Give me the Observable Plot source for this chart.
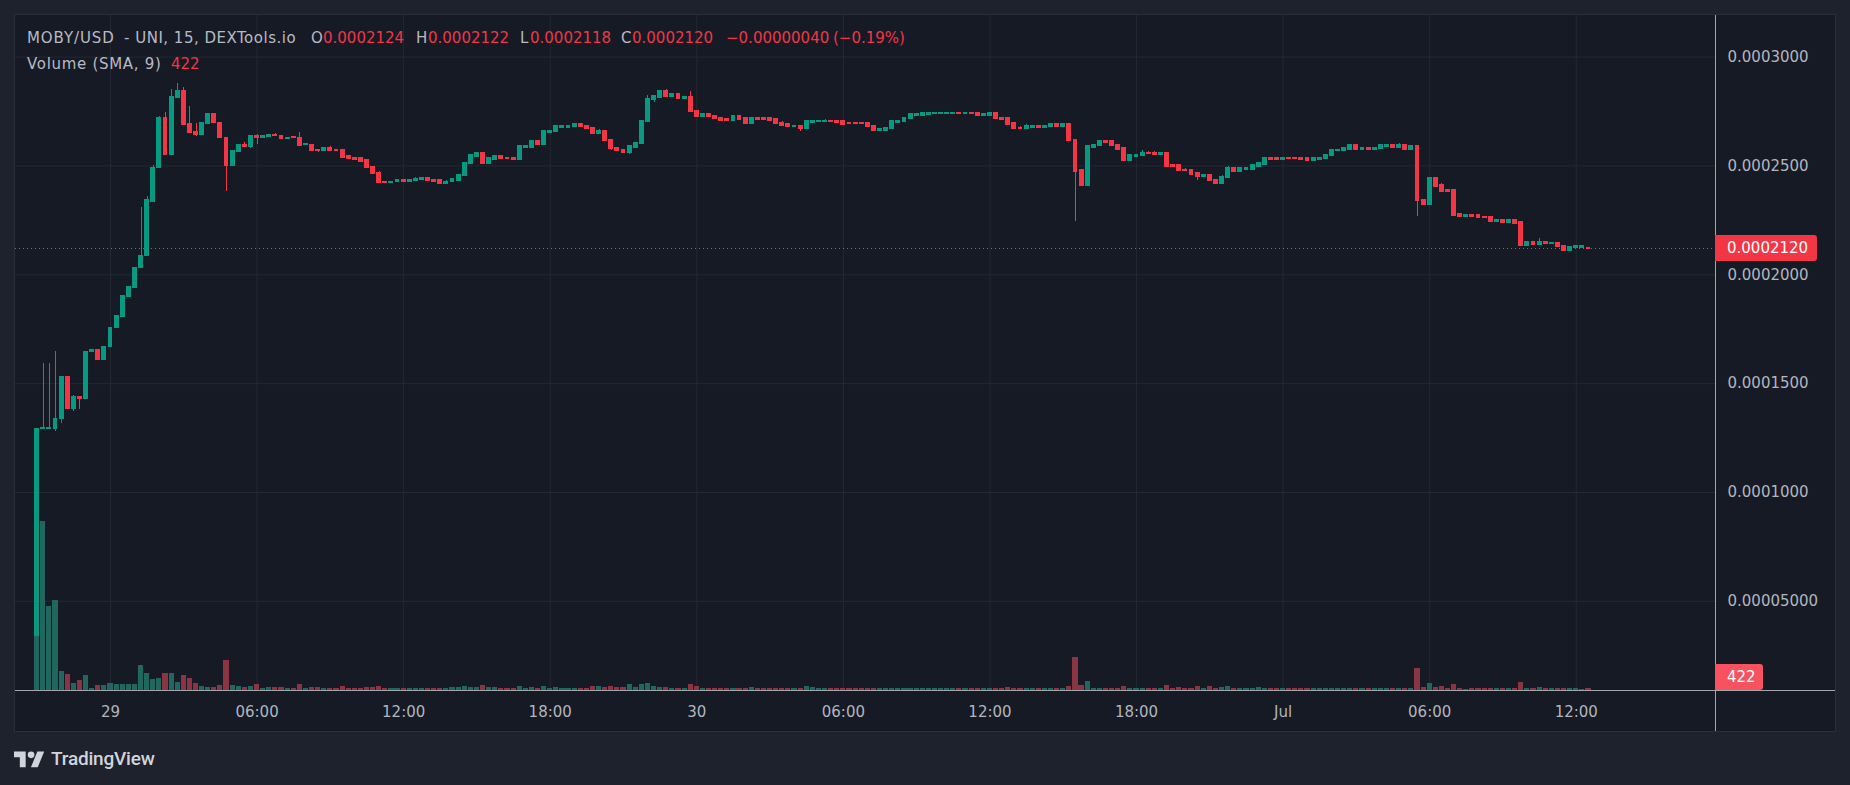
<!DOCTYPE html>
<html>
<head>
<meta charset="utf-8">
<script src="https://cdn.jsdelivr.net/npm/d3@7"></script>
<script src="https://cdn.jsdelivr.net/npm/@observablehq/plot@0.6"></script>
<style>
  html, body { margin: 0; padding: 0; background: #1e222d; }
  #wrap { position: relative; width: 1850px; height: 785px; overflow: hidden; background: #1e222d; font-family: "DejaVu Sans", sans-serif; }
  #frame { position: absolute; left: 14px; top: 14px; width: 1822px; height: 718px; box-sizing: border-box; background: #161a25; border: 1px solid #2a2e39; }
  .layer { position: absolute; left: 0; top: 0; }
  .hline { position: absolute; height: 1px; background: #a3a6af; }
  .vline { position: absolute; width: 1px; background: #a3a6af; }
  .lg { position: absolute; font-size: 15px; line-height: 20px; white-space: pre; color: #b8bbc4; }
  .lg.r { color: #f23645; }
  .tag { position: absolute; color: #ffffff; font-size: 15px; line-height: 26px; height: 26px; box-sizing: border-box; padding-left: 12px; white-space: pre; border-radius: 0 3px 3px 0; }
  #logo { position: absolute; left: 14px; top: 747px; color: #d1d4dc; display: flex; align-items: center; }
  #logo span { font-family: Roboto, sans-serif; font-weight: 500; font-size: 19px; margin-left: 7px; letter-spacing: -0.2px; }
</style>
</head>
<body>
<div id="wrap">
  <div id="frame"></div>
</div>
<script>
// ---------- DATA (prices in units of 0.0000001 USD) ----------
const UNIT = 1e-7;
const START = Date.UTC(2024, 5, 28, 21, 0);   // first 15-min candle, 28 Jun 21:00
const INTERVAL_MIN = 15;

const OPEN = [
  338,1293,1293,1290,1336,1528,1382,1440,1428,1644,
  1652,1607,1667,1754,1808,1897,1938,2030,2085,2335,
  2489,2722,2549,2811,2842,2690,2655,2641,2693,2736,
  2699,2630,2502,2563,2594,2586,2638,2627,2635,2644,
  2638,2623,2632,2630,2595,2598,2575,2571,2583,2575,
  2571,2543,2538,2534,2525,2497,2469,2428,2420,2425,
  2433,2425,2430,2434,2442,2433,2433,2419,2425,2433,
  2456,2511,2543,2557,2511,2529,2543,2538,2538,2529,
  2584,2584,2616,2598,2653,2658,2676,2676,2681,2690,
  2685,2676,2649,2662,2621,2584,2575,2561,2584,2603,
  2704,2805,2814,2842,2819,2828,2809,2814,2754,2727,
  2736,2731,2722,2713,2708,2727,2718,2695,2718,2718,
  2718,2713,2699,2690,2681,2685,2672,2699,2704,2704,
  2708,2708,2704,2695,2695,2695,2695,2685,2662,2662,
  2672,2699,2704,2718,2731,2731,2736,2741,2741,2741,
  2741,2745,2741,2745,2745,2731,2731,2741,2722,2718,
  2695,2676,2672,2676,2681,2676,2681,2690,2681,2690,
  2621,2479,2410,2584,2594,2612,2612,2598,2580,2525,
  2543,2548,2561,2561,2552,2561,2502,2502,2483,2483,
  2465,2451,2460,2437,2419,2447,2488,2474,2483,2483,
  2497,2506,2538,2534,2529,2538,2538,2538,2534,2525,
  2529,2534,2548,2571,2571,2575,2594,2575,2584,2575,
  2580,2589,2594,2584,2594,2575,2589,2345,2322,2442,
  2410,2387,2387,2277,2267,2272,2272,2267,2267,2244,
  2249,2240,2249,2240,2134,2148,2139,2148,2143,2146,
  2134,2111,2122,2125,2124
];
const HIGH = [
  1293,1592,1592,1647,1529,1532,1445,1440,1647,1656,
  1652,1670,1757,1812,1900,1943,2033,2310,2359,2502,
  2728,2745,2851,2878,2860,2774,2695,2695,2736,2736,
  2699,2630,2571,2598,2609,2638,2644,2638,2644,2649,
  2638,2630,2636,2653,2604,2598,2575,2583,2589,2575,
  2575,2543,2538,2534,2525,2497,2474,2428,2428,2433,
  2433,2433,2447,2442,2442,2433,2433,2433,2443,2460,
  2515,2548,2557,2561,2534,2543,2548,2538,2538,2589,
  2594,2616,2616,2658,2662,2681,2685,2685,2690,2690,
  2685,2676,2667,2662,2621,2584,2575,2589,2607,2708,
  2823,2819,2842,2851,2832,2828,2814,2842,2754,2736,
  2736,2731,2722,2718,2731,2731,2718,2718,2722,2718,
  2718,2713,2704,2690,2685,2685,2704,2708,2711,2713,
  2708,2708,2704,2695,2695,2695,2695,2685,2667,2676,
  2704,2708,2722,2736,2736,2741,2745,2745,2745,2745,
  2745,2745,2745,2745,2745,2736,2741,2741,2722,2718,
  2695,2681,2690,2681,2681,2685,2690,2690,2690,2695,
  2621,2479,2589,2598,2612,2612,2612,2598,2580,2548,
  2552,2571,2566,2566,2561,2561,2506,2502,2488,2483,
  2465,2460,2460,2437,2456,2497,2488,2488,2492,2502,
  2511,2538,2538,2534,2538,2538,2538,2538,2534,2534,
  2538,2552,2575,2575,2580,2594,2594,2584,2584,2584,
  2594,2594,2594,2603,2598,2594,2589,2345,2442,2442,
  2419,2387,2387,2277,2272,2277,2272,2267,2267,2249,
  2249,2254,2249,2244,2152,2148,2166,2148,2146,2146,
  2134,2125,2130,2130,2124
];
const LOW = [
  338,1292,1292,1281,1318,1382,1373,1382,1428,1643,
  1607,1607,1667,1754,1808,1897,1938,2030,2085,2335,
  2489,2549,2549,2811,2687,2650,2636,2641,2693,2696,
  2627,2384,2502,2563,2586,2581,2600,2627,2630,2636,
  2623,2623,2627,2594,2595,2571,2563,2571,2571,2567,
  2538,2534,2529,2520,2492,2465,2423,2420,2420,2425,
  2425,2425,2430,2434,2430,2428,2419,2419,2425,2433,
  2456,2511,2538,2511,2511,2529,2534,2534,2529,2529,
  2584,2584,2598,2598,2653,2658,2676,2676,2681,2681,
  2672,2644,2649,2616,2571,2571,2561,2552,2584,2603,
  2704,2791,2814,2819,2819,2809,2809,2750,2722,2727,
  2727,2718,2708,2708,2708,2713,2695,2695,2713,2713,
  2708,2695,2685,2681,2681,2658,2672,2699,2704,2704,
  2704,2699,2690,2692,2692,2692,2681,2662,2662,2662,
  2672,2699,2704,2718,2731,2731,2736,2741,2741,2741,
  2741,2741,2741,2741,2731,2731,2731,2718,2713,2690,
  2672,2672,2672,2676,2676,2676,2681,2681,2681,2616,
  2244,2410,2410,2584,2594,2607,2594,2575,2525,2525,
  2543,2548,2557,2552,2552,2492,2497,2479,2479,2460,
  2433,2451,2433,2419,2419,2447,2474,2474,2483,2483,
  2497,2506,2529,2529,2529,2534,2534,2529,2525,2525,
  2529,2534,2548,2571,2571,2575,2575,2575,2575,2575,
  2580,2589,2584,2584,2575,2575,2267,2322,2322,2405,
  2382,2382,2272,2267,2267,2267,2263,2263,2244,2244,
  2240,2240,2235,2134,2134,2139,2139,2143,2143,2130,
  2111,2111,2122,2125,2118
];
const CLOSE = [
  1293,1295,1295,1339,1528,1382,1440,1428,1647,1652,
  1607,1670,1757,1812,1900,1943,2033,2088,2341,2492,
  2722,2549,2814,2842,2687,2650,2641,2695,2736,2696,
  2627,2502,2566,2594,2586,2638,2627,2638,2644,2636,
  2623,2630,2627,2594,2600,2571,2571,2583,2571,2567,
  2538,2534,2529,2520,2492,2465,2423,2420,2428,2433,
  2425,2433,2440,2442,2430,2428,2419,2428,2439,2460,
  2515,2548,2557,2511,2534,2543,2534,2534,2529,2589,
  2589,2616,2598,2658,2662,2681,2681,2685,2690,2681,
  2672,2649,2662,2616,2580,2571,2561,2589,2607,2708,
  2809,2819,2842,2819,2828,2809,2814,2750,2727,2736,
  2727,2718,2708,2708,2727,2713,2695,2718,2713,2713,
  2708,2695,2685,2681,2685,2672,2704,2708,2708,2708,
  2704,2699,2690,2692,2692,2692,2681,2662,2667,2676,
  2704,2708,2722,2736,2736,2741,2745,2745,2745,2745,
  2745,2741,2745,2741,2731,2736,2741,2718,2713,2690,
  2672,2672,2681,2681,2676,2685,2690,2681,2690,2616,
  2474,2410,2589,2598,2612,2607,2594,2575,2525,2548,
  2552,2561,2557,2552,2561,2497,2497,2479,2479,2460,
  2451,2460,2433,2419,2451,2488,2474,2488,2488,2502,
  2511,2538,2529,2529,2538,2534,2534,2529,2525,2534,
  2538,2552,2575,2575,2580,2594,2575,2584,2575,2584,
  2594,2594,2584,2594,2575,2589,2341,2322,2442,2405,
  2382,2382,2272,2267,2272,2267,2263,2263,2244,2249,
  2240,2249,2235,2134,2148,2139,2148,2143,2146,2130,
  2111,2125,2130,2130,2120
];
const VOLUME = [
  11400,35700,17700,19000,4000,3380,1480,2110,3170,420,
  1060,1050,1480,1270,1260,1270,1270,5280,3590,2320,
  2530,3590,3580,1690,3170,2530,1480,840,630,640,
  1050,6330,1060,850,630,840,1270,420,630,640,
  630,410,430,1260,420,630,640,420,410,430,
  850,420,410,430,630,640,840,420,410,430,
  420,410,430,420,410,430,420,410,630,640,
  840,630,630,1050,630,640,420,410,430,840,
  420,630,420,850,420,630,420,410,430,420,
  420,840,850,630,840,630,640,1270,630,1260,
  1480,840,630,640,420,410,430,1270,840,420,
  410,430,420,410,430,420,410,630,420,410,
  430,420,410,430,420,410,840,630,420,410,
  430,420,410,430,420,410,430,420,410,430,
  420,410,430,420,410,430,420,410,430,420,
  410,430,420,410,430,420,410,430,420,630,
  420,410,430,420,410,430,420,410,430,840,
  6960,1050,1900,420,410,430,420,410,840,420,
  410,430,420,410,430,1050,420,630,420,410,
  840,420,840,410,630,840,420,410,430,420,
  630,420,410,430,420,410,430,420,410,430,
  420,410,430,420,410,430,420,410,430,420,
  410,430,420,410,430,420,4640,630,1480,630,
  840,420,1270,420,210,420,410,430,420,410,
  430,420,410,1690,420,420,630,410,430,420,
  410,430,420,210,422
];

const LAST_PRICE = 0.0002120;
const LAST_PRICE_LABEL = "0.0002120";
const LAST_VOLUME_LABEL = "422";

const PRICE_TICKS = [0.00005, 0.0001, 0.00015, 0.0002, 0.00025, 0.0003];
const PRICE_TICK_LABELS = ["0.00005000", "0.0001000", "0.0001500", "0.0002000", "0.0002500", "0.0003000"];

const TIME_TICKS = [
  Date.UTC(2024,5,29,0), Date.UTC(2024,5,29,6), Date.UTC(2024,5,29,12), Date.UTC(2024,5,29,18),
  Date.UTC(2024,5,30,0), Date.UTC(2024,5,30,6), Date.UTC(2024,5,30,12), Date.UTC(2024,5,30,18),
  Date.UTC(2024,6,1,0), Date.UTC(2024,6,1,6), Date.UTC(2024,6,1,12)
];
const TIME_TICK_LABELS = ["29","06:00","12:00","18:00","30","06:00","12:00","18:00","Jul","06:00","12:00"];

const LEGEND_ITEMS = [
  {text: "MOBY/USD", red: false, ls: 0.9, x: 27, line: 0},
  {text: "- UNI, 15, DEXTools.io", red: false, ls: 0.5, x: 124, line: 0},
  {text: "O", red: false, x: 311, line: 0}, {text: "0.0002124", red: true, x: 323, line: 0},
  {text: "H", red: false, x: 416, line: 0}, {text: "0.0002122", red: true, x: 428, line: 0},
  {text: "L", red: false, x: 520, line: 0}, {text: "0.0002118", red: true, x: 530, line: 0},
  {text: "C", red: false, x: 621, line: 0}, {text: "0.0002120", red: true, x: 632, line: 0},
  {text: "\u22120.00000040", red: true, x: 726, line: 0},
  {text: "(\u22120.19%)", red: true, x: 833, line: 0},
  {text: "Volume (SMA, 9)", red: false, ls: 0.7, x: 27, line: 1},
  {text: "422", red: true, x: 171, line: 1}
];

// ---------- LAYOUT / STYLE ----------
const W = 1850, H = 785;
const M = {top: 15, right: 135, bottom: 95, left: 15};
const X_DOMAIN = [new Date(Date.UTC(2024,5,28,20,6,40)), new Date(Date.UTC(2024,6,1,17,42))];
const Y_DOMAIN = [0.00000905, 0.00031911];
const VOL_DOMAIN = [0, 142400];
const UP = "#089981", DOWN = "#f23645";
const VOL_UP = "#1f675f", VOL_DOWN = "#8b3442";
const GRID = "#242833";

const candles = OPEN.map((o, i) => ({
  t: new Date(START + i * INTERVAL_MIN * 60000),
  o: o * UNIT, h: HIGH[i] * UNIT, l: LOW[i] * UNIT, c: CLOSE[i] * UNIT, v: VOLUME[i]
}));
const ups = candles.filter(d => d.c >= d.o);
const downs = candles.filter(d => d.c < d.o);
const HALF = 6 * 60000;
const bx1 = d => new Date(+d.t - HALF), bx2 = d => new Date(+d.t + HALF);
const VHALF = 6.3 * 60000;
const vx1 = d => new Date(+d.t - VHALF), vx2 = d => new Date(+d.t + VHALF);

const priceLabel = new Map(PRICE_TICKS.map((v, i) => [v, PRICE_TICK_LABELS[i]]));
const timeLabel = new Map(TIME_TICKS.map((v, i) => [v, TIME_TICK_LABELS[i]]));
const timeTickDates = TIME_TICKS.map(t => new Date(t));

const common = {
  width: W, height: H,
  marginTop: M.top, marginRight: M.right, marginBottom: M.bottom, marginLeft: M.left,
  style: {background: "transparent", color: "#b2b5be", fontFamily: "'DejaVu Sans', sans-serif", fontSize: "15px", overflow: "visible"}
};

const pricePlot = Plot.plot({
  ...common,
  x: {type: "utc", domain: X_DOMAIN, axis: null, label: null},
  y: {domain: Y_DOMAIN, axis: null, label: null},
  marks: [
    Plot.gridX({ticks: timeTickDates, stroke: GRID, strokeOpacity: 1}),
    Plot.gridY({ticks: PRICE_TICKS, stroke: GRID, strokeOpacity: 1}),
    Plot.ruleY([LAST_PRICE], {stroke: DOWN, strokeDasharray: "1,3", strokeWidth: 1, shapeRendering: "crispEdges"}),
    Plot.ruleX(ups, {x: "t", y1: "l", y2: "h", stroke: UP, strokeWidth: 1, shapeRendering: "crispEdges"}),
    Plot.ruleX(downs, {x: "t", y1: "l", y2: "h", stroke: DOWN, strokeWidth: 1, shapeRendering: "crispEdges"}),
    Plot.rect(ups, {x1: bx1, x2: bx2, y1: "o", y2: "c", fill: UP, insetTop: -0.6, insetBottom: -0.6, shapeRendering: "crispEdges"}),
    Plot.rect(downs, {x1: bx1, x2: bx2, y1: "o", y2: "c", fill: DOWN, insetTop: -0.6, insetBottom: -0.6, shapeRendering: "crispEdges"}),
    Plot.axisY({anchor: "right", label: null, ticks: PRICE_TICKS, tickFormat: d => priceLabel.get(d), tickSize: 0, tickPadding: 12, fill: "#b2b5be", fontSize: 15}),
    Plot.axisX({anchor: "bottom", label: null, ticks: timeTickDates, tickFormat: d => timeLabel.get(+d), tickSize: 0, tickPadding: 16, fill: "#b2b5be", fontSize: 15})
  ]
});

const volPlot = Plot.plot({
  ...common,
  x: {type: "utc", domain: X_DOMAIN, axis: null, label: null},
  y: {domain: VOL_DOMAIN, axis: null, label: null},
  marks: [
    Plot.rect(candles.filter(d => d.c >= d.o), {x1: vx1, x2: vx2, y1: 0, y2: "v", fill: VOL_UP, shapeRendering: "crispEdges"}),
    Plot.rect(candles.filter(d => d.c < d.o), {x1: vx1, x2: vx2, y1: 0, y2: "v", fill: VOL_DOWN, shapeRendering: "crispEdges"})
  ]
});

const wrap = document.getElementById("wrap");
pricePlot.classList.add("layer");
volPlot.classList.add("layer");
wrap.appendChild(pricePlot);
wrap.appendChild(volPlot);

// axis lines
const axisX0 = W - M.right;
const axisY0 = H - M.bottom;
const vline = document.createElement("div");
vline.className = "vline";
vline.style.left = axisX0 + "px"; vline.style.top = "15px"; vline.style.height = (731 - 15) + "px";
wrap.appendChild(vline);
const hline = document.createElement("div");
hline.className = "hline";
hline.style.left = "15px"; hline.style.top = axisY0 + "px"; hline.style.width = (1835 - 15) + "px";
wrap.appendChild(hline);

// price tag (positioned via the plot's y scale)
const yPrice = pricePlot.scale("y").apply(LAST_PRICE);
const ptag = document.createElement("div");
ptag.className = "tag";
ptag.textContent = LAST_PRICE_LABEL;
ptag.style.left = axisX0 + "px"; ptag.style.top = (yPrice - 13) + "px"; ptag.style.width = "102px";
ptag.style.background = DOWN;
wrap.appendChild(ptag);

// volume tag (clamped to the pane bottom, as in the reference)
const yVol = Math.min(volPlot.scale("y").apply(VOLUME[VOLUME.length - 1]), axisY0 - 13);
const vtag = document.createElement("div");
vtag.className = "tag";
vtag.textContent = LAST_VOLUME_LABEL;
vtag.style.left = axisX0 + "px"; vtag.style.top = (yVol - 13) + "px"; vtag.style.width = "48px";
vtag.style.background = "#f7525f";
wrap.appendChild(vtag);

// legend
for (const it of LEGEND_ITEMS) {
  const s = document.createElement("div");
  s.className = "lg" + (it.red ? " r" : "");
  s.textContent = it.text;
  s.style.left = it.x + "px";
  s.style.top = (28 + it.line * 26) + "px";
  if (it.ls) s.style.letterSpacing = it.ls + "px";
  wrap.appendChild(s);
}

// TradingView logo
const logo = document.createElement("div");
logo.id = "logo";
logo.innerHTML = '<svg width="30" height="20" viewBox="0 0 36 24"><path d="M14 22H7V10H0V3h14v19z" fill="currentColor"/><circle cx="20.5" cy="7" r="4" fill="currentColor"/><path d="M28.5 22h-8.2L28 3h8.2L28.5 22z" fill="currentColor"/></svg><span>TradingView</span>';
wrap.appendChild(logo);
</script>
</body>
</html>
